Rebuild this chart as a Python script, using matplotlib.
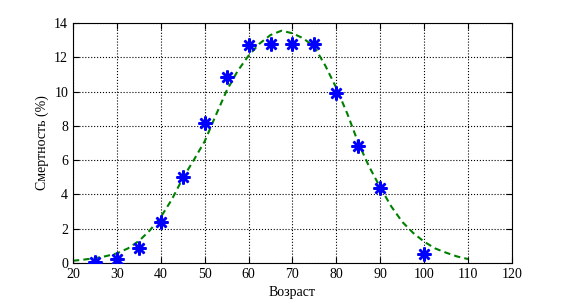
import matplotlib
matplotlib.use("Agg")
import matplotlib.pyplot as plt

age = [25, 30, 35, 40, 45, 50, 55, 60, 65, 70, 75, 80, 85, 90, 100]
mortality = [0.05, 0.25, 0.9, 2.4, 5.0, 8.15, 10.85, 12.7, 12.75, 12.8, 12.75, 9.9, 6.8, 4.35, 0.5]

fit_x = [20, 22.5, 25, 27.5, 30, 32.5, 35, 37.5, 40, 42.5, 45, 47.5, 50, 52.5, 55, 57.5,
         60, 62.5, 65, 67.5, 70, 72.5, 75, 77.5, 80, 82.5, 85, 87.5, 90, 92.5, 95, 97.5,
         100, 102.5, 105, 107.5, 110]
fit_y = [0.13, 0.2, 0.28, 0.4, 0.56, 0.85, 1.28, 1.9, 2.68, 3.7, 4.94, 6.0, 7.1, 8.6, 10.05, 11.2,
         12.1, 12.8, 13.3, 13.55, 13.4, 13.1, 12.6, 11.5, 10.2, 8.7, 7.0, 5.6, 4.4, 3.3, 2.4, 1.75,
         1.24, 0.85, 0.6, 0.38, 0.23]

xticks = [20, 30, 40, 50, 60, 70, 80, 90, 100, 110, 120]
yticks = [0, 2, 4, 6, 8, 10, 12, 14]

plt.rcParams['font.family'] = ['Liberation Serif', 'DejaVu Serif']
fig = plt.figure(figsize=(5.68, 3.04), dpi=100)
ax = fig.add_axes([73/568, 41/304, 439/568, 240/304])

ax.plot(age, mortality, linestyle='none', marker=(8, 2, 0), color='blue', markersize=10,
        markeredgewidth=1.8, zorder=3)
ax.plot(fit_x, fit_y, linestyle='--', color=(0, 0.5, 0), linewidth=1.5, dashes=(3, 2), zorder=2)

ax.set_xlim(20, 120)
ax.set_ylim(0, 14)
ax.set_xticks(xticks)
ax.set_yticks(yticks)
ax.grid(True, color='black', linestyle=':', linewidth=0.8)
ax.tick_params(direction='in', top=True, right=True, labelsize=10, length=4)
for s in ax.spines.values():
    s.set_linewidth(0.8)
ax.set_xlabel('Возраст', fontsize=10, labelpad=4)
ax.set_ylabel('Смертность (%)', fontsize=10, labelpad=4)

fig.savefig('out.png', dpi=100)
